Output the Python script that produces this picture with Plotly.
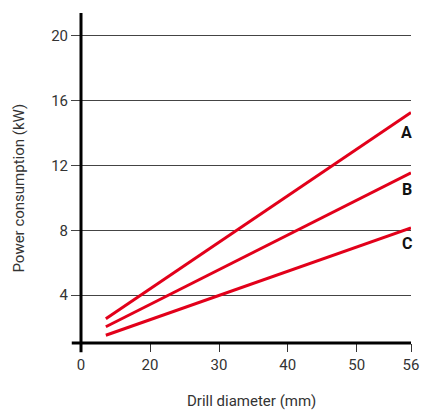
import numpy as np
import plotly.graph_objects as go

# axis ticks (the axis is broken between 0 and 20)
tick_mm = [0, 20, 30, 40, 50, 56]
tick_pos = [0, 11.71, 23.42, 35.07, 46.78, 56]
tick_text = ["0", "20", "30", "40", "50", "56"]
y_ticks = [4, 8, 12, 16, 20]

# lines: drill diameter (mm) vs power consumption (kW)
series = ["A", "B", "C"]
diam = [7.2, 56]
power_A = [2.54, 15.27]
power_B = [2.05, 11.54]
power_C = [1.53, 8.15]
label_y = [14.02, 10.5, 7.21]

red = "#e2001a"
grey = "#333333"
fnt = "Roboto"

def pos(mm):
    return np.interp(mm, tick_mm, tick_pos)

fig = go.Figure()
for name, p in zip(series, [power_A, power_B, power_C]):
    fig.add_trace(go.Scatter(x=pos(diam), y=p, mode="lines", name=name,
                             line=dict(color=red, width=3), showlegend=False))

for name, ly in zip(series, label_y):
    fig.add_annotation(x=56, y=ly, text="<b>%s</b>" % name, showarrow=False,
                       xanchor="right", xshift=3,
                       font=dict(family=fnt, size=16, color="#111"))

# axis lines overlapping each other like a cross
fig.add_shape(type="line", xref="paper", yref="paper", x0=-0.028, x1=1, y0=0, y1=0,
              line=dict(color="black", width=3))
fig.add_shape(type="line", xref="paper", yref="paper", x0=0, x1=0, y0=-0.028, y1=1,
              line=dict(color="black", width=3))

fig.add_annotation(xref="paper", yref="paper", x=-0.188, y=0.471, text="Power consumption (kW)",
                   textangle=-90, showarrow=False, xanchor="center", yanchor="middle",
                   font=dict(family=fnt, size=15, color=grey))
fig.add_annotation(xref="paper", yref="paper", x=0.518, y=-0.175, text="Drill diameter (mm)",
                   showarrow=False, xanchor="center", yanchor="middle",
                   font=dict(family=fnt, size=15, color=grey))

fig.update_layout(
    width=422, height=410, autosize=False,
    margin=dict(l=81, r=11, t=13, b=66.5),
    plot_bgcolor="white", paper_bgcolor="white",
    xaxis=dict(range=[0, 56], tickvals=tick_pos, ticktext=tick_text, showgrid=False,
               zeroline=False, showline=False, ticks="outside", ticklen=8, tickwidth=1,
               automargin=False,
               tickcolor=grey, tickfont=dict(family=fnt, size=15, color=grey)),
    yaxis=dict(range=[1.05, 21.4], tickvals=y_ticks, showgrid=True, gridcolor="#444",
               gridwidth=1, zeroline=False, showline=False, ticks="outside", ticklen=9,
               automargin=False,
               tickwidth=1, tickcolor="#444", tickfont=dict(family=fnt, size=15, color=grey)),
)

# drop the page's default body margin so the figure fills the window
fig.write_html("out.html", config=dict(displayModeBar=False, responsive=False),
               post_script="document.body.style.margin='0';document.body.style.overflow='hidden';")
